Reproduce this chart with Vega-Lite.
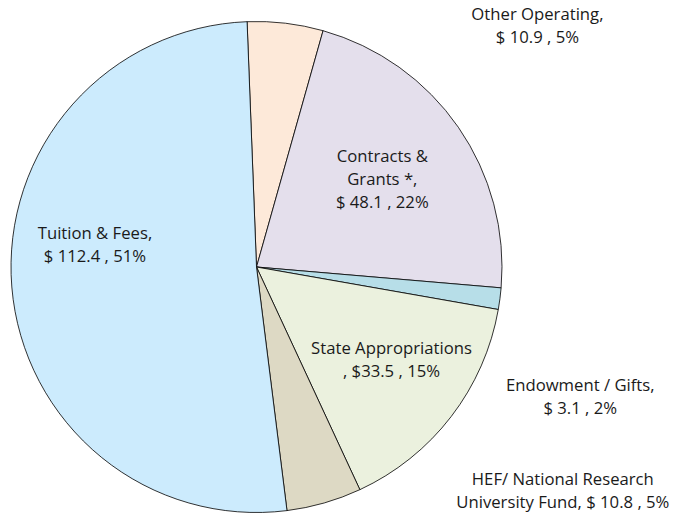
{
  "$schema": "https://vega.github.io/schema/vega-lite/v6.json",
  "width": 501,
  "height": 500,
  "autosize": "none",
  "padding": {"left": 6, "top": 17, "right": 167, "bottom": 1},
  "background": "white",
  "view": {"stroke": null},
  "config": {"text": {"font": "Open Sans", "fontSize": 16.7, "color": "#1a1a1a", "lineHeight": 23, "lineBreak": "\n", "align": "center", "baseline": "middle"}},
  "data": {"values": [
    {"rank": 1, "category": "Other Operating", "value": 10.9, "label": "Other Operating,\n$ 10.9 , 5%"},
    {"rank": 2, "category": "Contracts & Grants", "value": 48.1, "label": "Contracts &\nGrants *,\n$ 48.1 , 22%"},
    {"rank": 3, "category": "Endowment / Gifts", "value": 3.1, "label": "Endowment / Gifts,\n$ 3.1 , 2%"},
    {"rank": 4, "category": "State Appropriations", "value": 33.5, "label": "State Appropriations\n,  $33.5 , 15%"},
    {"rank": 5, "category": "HEF/ National Research University Fund", "value": 10.8, "label": "HEF/ National Research\nUniversity Fund, $ 10.8 , 5%"},
    {"rank": 6, "category": "Tuition & Fees", "value": 112.4, "label": "Tuition & Fees,\n$ 112.4 , 51%"}
  ]},
  "encoding": {
    "theta": {"field": "value", "type": "quantitative", "stack": true, "scale": {"range": [-0.0384, 6.2448]}},
    "order": {"field": "rank", "type": "quantitative", "sort": "ascending"},
    "color": {
      "field": "category", "type": "nominal", "legend": null,
      "scale": {
        "domain": ["Other Operating", "Contracts & Grants", "Endowment / Gifts", "State Appropriations", "HEF/ National Research University Fund", "Tuition & Fees"],
        "range": ["#FDE9D9", "#E4DFEC", "#B7DEE8", "#EBF1DE", "#DDD9C4", "#CCEBFD"]
      }
    }
  },
  "layer": [
    {"mark": {"type": "arc", "outerRadius": 245.5, "stroke": "#000000", "strokeWidth": 0.8}},
    {"mark": {"type": "text", "radius": 163, "thetaOffset": 0.216, "dy": -11.5, "fill": "#1a1a1a"},
     "encoding": {"text": {"condition": {"test": "datum.category === 'Tuition & Fees'", "field": "label"}, "value": ""}}},
    {"mark": {"type": "text", "radius": 153, "thetaOffset": 0, "dy": -23, "fill": "#1a1a1a"},
     "encoding": {"text": {"condition": {"test": "datum.category === 'Contracts & Grants'", "field": "label"}, "value": ""}}},
    {"mark": {"type": "text", "radius": 164, "thetaOffset": -0.051, "dy": -11.5, "fill": "#1a1a1a"},
     "encoding": {"text": {"condition": {"test": "datum.category === 'State Appropriations'", "field": "label"}, "value": ""}}},
    {"mark": {"type": "text", "radius": 370, "thetaOffset": 0.744, "dy": -11.5, "fill": "#1a1a1a"},
     "encoding": {"text": {"condition": {"test": "datum.category === 'Other Operating'", "field": "label"}, "value": ""}}},
    {"mark": {"type": "text", "radius": 349, "thetaOffset": 0.253, "dy": -11.5, "fill": "#1a1a1a"},
     "encoding": {"text": {"condition": {"test": "datum.category === 'Endowment / Gifts'", "field": "label"}, "value": ""}}},
    {"mark": {"type": "text", "radius": 380, "thetaOffset": -0.658, "dy": -11.5, "fill": "#1a1a1a"},
     "encoding": {"text": {"condition": {"test": "datum.category === 'HEF/ National Research University Fund'", "field": "label"}, "value": ""}}}
  ]
}
